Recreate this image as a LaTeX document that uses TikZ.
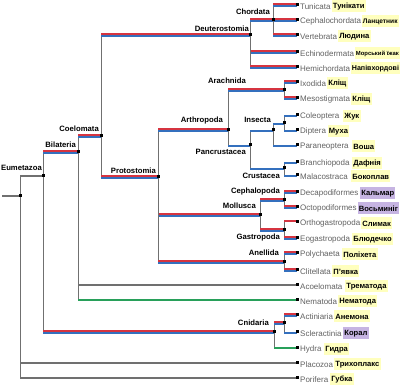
\documentclass[tikz,border=0pt]{standalone}
\usepackage{fontspec}
\setmainfont{Liberation Sans}
\usetikzlibrary{positioning, backgrounds}
\definecolor{brred}{RGB}{214,52,64}
\definecolor{brblue}{RGB}{52,112,190}
\definecolor{brgreen}{RGB}{40,160,90}
\definecolor{brgray}{RGB}{112,112,112}
\definecolor{hlyellow}{RGB}{255,255,190}
\definecolor{hlviolet}{RGB}{198,180,226}
\tikzset{
  vline/.style={draw=brgray, line width=0.9pt},
  grayline/.style={draw=brgray, line width=1.3pt},
  redline/.style={draw=brred, line width=2pt, transform canvas={yshift=1.2pt}},
  blueline/.style={draw=brblue, line width=2pt, transform canvas={yshift=-1.2pt}},
  greenline/.style={draw=brgreen, line width=2pt, transform canvas={yshift=-0.4pt}},
  knot/.style={rectangle, fill=black, inner sep=0pt, minimum size=3pt},
  clade/.style={font=\fontsize{7.7}{8}\selectfont\bfseries, anchor=east, inner sep=0pt},
  taxon/.style={font=\fontsize{8}{9}\selectfont, text=black!62, anchor=west, inner sep=0pt},
  uk/.style={font=\fontsize{7.6}{9}\selectfont\bfseries, fill=hlyellow, anchor=west,
    inner xsep=1.2pt, inner ysep=1.5pt, minimum height=12pt},
  uks/.style={uk, font=\fontsize{6.6}{8}\selectfont\bfseries},
  ukxs/.style={uk, font=\fontsize{5.9}{7}\selectfont\bfseries},
  ukm/.style={uk, font=\fontsize{7.1}{8}\selectfont\bfseries},
  ukv/.style={uk, fill=hlviolet},
}

\begin{document}
\begin{tikzpicture}[x=1pt, y=-1pt]
  \useasboundingbox (0,0) rectangle (400,387);

  % Inner nodes of the tree
  \foreach \id/\xx/\yy in {root/20/196, eum/43/176, bil/78/152, coe/101/136,
      deu/250/35, cho/273/20, pro/158/177, art/228/130, ara/284/90, pan/250/145,
      ins/273/130, cod/284/123, cru/284/168, mol/260/215, cph/284/200,
      gas/284/230, ane/284/262, cni/274/332, acs/284/323}
    \node[knot] (\id) at (\xx,\yy) {};
  \coordinate (stub) at (2,196);

  % Leaves: dot, latin name, ukrainian name
  \foreach \id/\yy/\lat/\ux/\ukr/\st in {
      tun/5/Tunicata/331.5/Тунікати/uk,
      cep/20/Cephalochordata/361.5/Ланцетник/uks,
      ver/35/Vertebrata/338/Людина/uk,
      ech/52/Echinodermata/354.5/Морський їжак/ukxs,
      hem/67/Hemichordata/350.5/Напівхордові/ukm,
      ixo/82/Ixodida/327/Кліщ/uk,
      mes/98/Mesostigmata/351/Кліщ/uk,
      col/115/Coleoptera/343/Жук/uk,
      dip/130/Diptera/327.5/Муха/uk,
      par/145/Paraneoptera/352/Воша/uk,
      bra/162/Branchiopoda/352/Дафнія/uk,
      mal/175/Malacostraca/351/Бокоплав/uk,
      dec/192/Decapodiformes/360/Кальмар/ukv,
      oct/207/Octopodiformes/357.5/Восьминіг/ukv,
      ort/222/Orthogastropoda/361/Слимак/uk,
      eog/238/Eogastropoda/352/Блюдечко/uk,
      pol/253/Polychaeta/342/Поліхета/uk,
      cli/270/Clitellata/332/П'явка/uk,
      aco/285/Acoelomata/345/Трематода/uk,
      nem/300/Nematoda/338/Нематода/uk,
      act/315/Actiniaria/334/Анемона/uk,
      scl/332/Scleractinia/343/Корал/ukv,
      hyd/348/Hydra/324/Гидра/uk,
      pla/363/Placozoa/334/Трихоплакс/uk,
      por/378/Porifera/330/Губка/uk} {
    \node[knot] (\id) at (297,\yy) {};
    \node[taxon] (n\id) at (300,\yy+1.5) {\lat};
    \node[\st] (u\id) at (\ux,\yy+1.5) {\ukr};
  }

  % Clade labels
  \foreach \id/\xx/\yy/\txt in {eum/42/168/Eumetazoa, bil/76/145/Bilateria,
      coe/99/129/Coelomata, deu/249/29/Deuterostomia, cho/270/12/Chordata,
      pro/156/171/Protostomia, art/223/121/Arthropoda, ara/246/81/Arachnida,
      pan/246/152/Pancrustacea, ins/271/120/Insecta, cru/280/176/Crustacea,
      cph/280/192/Cephalopoda, mol/256/206/Mollusca, gas/280/238/Gastropoda,
      ane/279/253/Anellida, cni/269/323/Cnidaria}
    \node[clade] (l\id) at (\xx,\yy) {\txt};

  \begin{scope}[on background layer]
    \draw[grayline] (stub) -- (root.center);
    % red/blue branches
    \foreach \p/\c in {eum/bil, eum/cni, bil/coe, coe/deu, coe/pro,
        deu/cho, deu/ech, deu/hem, cho/tun, cho/cep, cho/ver,
        pro/art, pro/mol, pro/ane, art/ara, ara/ixo, ara/mes,
        mol/cph, mol/gas, cph/dec, cph/oct, gas/eog,
        ane/pol, ane/cli, cni/acs, acs/act} {
      \draw[vline] (\p.center) -- (\p.center |- \c.center);
      \draw[redline] (\p.center |- \c.center) -- (\c.center);
      \draw[blueline] (\p.center |- \c.center) -- (\c.center);
    }
    % single colour branches
    \foreach \p/\c/\hue in {root/eum/grayline, root/pla/grayline, root/por/grayline,
        bil/aco/grayline, bil/nem/greenline, cni/hyd/greenline,
        art/pan/blueline, pan/ins/blueline, pan/cru/blueline,
        ins/cod/blueline, ins/par/blueline, cod/col/blueline, cod/dip/blueline,
        cru/bra/blueline, cru/mal/blueline, acs/scl/blueline, gas/ort/redline} {
      \draw[vline] (\p.center) -- (\p.center |- \c.center);
      \draw[\hue] (\p.center |- \c.center) -- (\c.center);
    }
  \end{scope}
\end{tikzpicture}
\end{document}
